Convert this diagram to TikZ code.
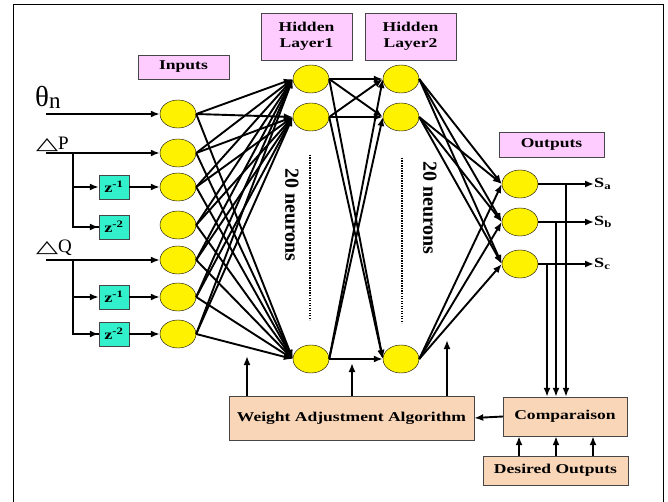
\documentclass[tikz,border=0pt]{standalone}
\usepackage{fontspec}
\setmainfont{Liberation Serif}
\newfontfamily\boxfont{Liberation Serif}[FakeStretch=1.3]
\newfontfamily\symfont{DejaVu Sans}
\usetikzlibrary{arrows}
\usetikzlibrary{arrows.meta}
\usetikzlibrary{shapes.geometric}
\usetikzlibrary{calc}
\usepackage{xcolor}

\definecolor{titlepink}{RGB}{255,204,255}
\definecolor{delaycyan}{RGB}{51,240,204}
\definecolor{blockpeach}{RGB}{250,214,184}
\definecolor{boxgray}{RGB}{70,70,70}

\tikzset{
  >={Latex[length=9pt,width=7pt]},
  conn/.style={line width=1.9pt,->},
  neuron/.style={ellipse,draw,thin,fill=yellow,minimum width=36pt,minimum height=28pt,inner sep=0pt},
  title/.style={draw=boxgray,fill=titlepink,inner sep=0pt,align=center,
    font=\boxfont\bfseries\fontsize{13.5}{16}\selectfont},
  delay/.style={draw=boxgray,fill=delaycyan,minimum width=30pt,minimum height=24pt,inner sep=0pt,
    font=\boxfont\bfseries\fontsize{14}{15}\selectfont},
  block/.style={draw=boxgray,fill=blockpeach,inner sep=0pt,
    font=\boxfont\bfseries\fontsize{13.5}{15}\selectfont}
}

\begin{document}
\begin{tikzpicture}[x=1pt,y=-1pt]
      \useasboundingbox (0,0) rectangle (668,502);
      % Frame
      \draw[thin] (13,4) rectangle (663,520);

      % Titles
      \node[title,minimum width=91pt,minimum height=24pt] (tin) at (183.5,67) {Inputs};
      \node[title,minimum width=91pt,minimum height=47pt] (th1) at (306.5,36.5) {Hidden\\Layer1};
      \node[title,minimum width=91pt,minimum height=47pt] (th2) at (410.5,36.5) {Hidden\\Layer2};
      \node[title,minimum width=105pt,minimum height=25pt] (tout) at (551.5,144.5) {Outputs};

      % Neurons
      \foreach \n/\y in {1/114,2/153,3/187,4/225,5/260,6/297,7/334}
      {
        \node[neuron] (i\n) at (178,\y) {};
      }
      \foreach \n/\y in {1/79,2/117,3/359}
      {
        \node[neuron] (a\n) at (311,\y) {};
        \node[neuron] (b\n) at (401,\y) {};
      }
      \foreach \n/\y in {1/184,2/222,3/264}
        \node[neuron] (o\n) at (520,\y) {};

      % Weights
      \foreach \i in {1,...,7}
        \foreach \j in {1,2,3}
          \draw[conn] (i\i.east) -- (a\j.west);
      \foreach \i in {1,2,3}
        \foreach \j in {1,2,3}
        {
          \draw[conn] (a\i.east) -- (b\j.west);
          \draw[conn] (b\i.east) -- (o\j.west);
        }

      % 20 neurons
      \draw[line width=1.4pt,dash pattern=on 1.2pt off 1.3pt] (310,155) -- (310,320);
      \draw[line width=1.4pt,dash pattern=on 1.2pt off 1.3pt] (402,158) -- (402,323);
      \node[rotate=-90,font=\bfseries\fontsize{20}{20}\selectfont] (n1) at (292,215) {20 neurons};
      \node[rotate=-90,font=\bfseries\fontsize{20}{20}\selectfont] (n2) at (430,208) {20 neurons};

      % Input signals
      \node[anchor=base west,inner sep=0pt] (lth) at (35,107)
        {\fontsize{29}{29}\selectfont θ\raisebox{-2pt}{\fontsize{23}{23}\selectfont n}};
      \node[anchor=base west,inner sep=0pt] (ldp) at (36,149.5)
        {\resizebox{22pt}{11pt}{\symfont △}\fontsize{19}{19}\selectfont P};
      \node[anchor=base west,inner sep=0pt] (ldq) at (36,252.5)
        {\resizebox{22pt}{11pt}{\symfont △}\fontsize{19}{19}\selectfont Q};

      \coordinate (sth) at (46,114);
      \coordinate (sdp) at (46,153);
      \coordinate (sdq) at (46,260);
      \draw[conn] (sth) -- (i1.west);
      \draw[conn] (sdp) -- (i2.west);
      \draw[conn] (sdq) -- (i5.west);

      % Delays
      \node[delay] (zp1) at (114,187) {z\textsuperscript{-1}};
      \node[delay] (zp2) at (114,227) {z\textsuperscript{-2}};
      \node[delay] (zq1) at (114,297) {z\textsuperscript{-1}};
      \node[delay] (zq2) at (114,334) {z\textsuperscript{-2}};
      \coordinate (bp) at (73,153);
      \coordinate (bq) at (73,260);
      \draw[line width=1.9pt] (bp) |- (zp2.west);
      \draw[line width=1.9pt] (bq) |- (zq2.west);
      \draw[conn] (bp |- zp1) -- (zp1.west);
      \draw[conn] (bp |- zp2) -- (zp2.west);
      \draw[conn] (bq |- zq1) -- (zq1.west);
      \draw[conn] (bq |- zq2) -- (zq2.west);
      \draw[conn] (zp1.east) -- (i3.west);
      \draw[conn] (zq1.east) -- (i6.west);
      \draw[conn] (zq2.east) -- (i7.west);

      % Outputs
      \foreach \n/\s in {1/a,2/b,3/c}
      {
        \node[anchor=west,inner sep=0pt,font=\boxfont\bfseries\fontsize{14}{14}\selectfont] (s\n) at (594,{\n==1 ? 184 : (\n==2 ? 222 : 264)}) {S\textsubscript{\s}};
        \draw[conn] (o\n.east) -- (s\n.west);
      }

      % Training
      \node[block,minimum width=245pt,minimum height=44pt] (waa) at (351.5,418) {Weight Adjustment Algorithm};
      \node[block,minimum width=124pt,minimum height=39pt] (comp) at (565,416.5) {Comparaison};
      \node[block,minimum width=145pt,minimum height=29pt] (des) at (555.5,470.5) {Desired Outputs};

      \coordinate (da) at (566,0);
      \coordinate (db) at (556,0);
      \coordinate (dc) at (547,0);
      \draw[conn] (o1.east -| da) -- (comp.north -| da);
      \draw[conn] (o2.east -| db) -- (comp.north -| db);
      \draw[conn] (o3.east -| dc) -- (comp.north -| dc);

      \foreach \x in {519,556,593}
      {
        \coordinate (e\x) at (\x,0);
        \draw[conn] (des.north -| e\x) -- (comp.south -| e\x);
      }
      \draw[conn] (comp.west) -- (waa.east);

      \coordinate (fb1) at (247,356);
      \coordinate (fb2) at (352,363);
      \coordinate (fb3) at (447,340);
      \draw[conn] (waa.north -| fb1) -- (fb1);
      \draw[conn] (waa.north -| fb2) -- (fb2);
      \draw[conn] (waa.north -| fb3) -- (fb3);

  \end{tikzpicture}
\end{document}
